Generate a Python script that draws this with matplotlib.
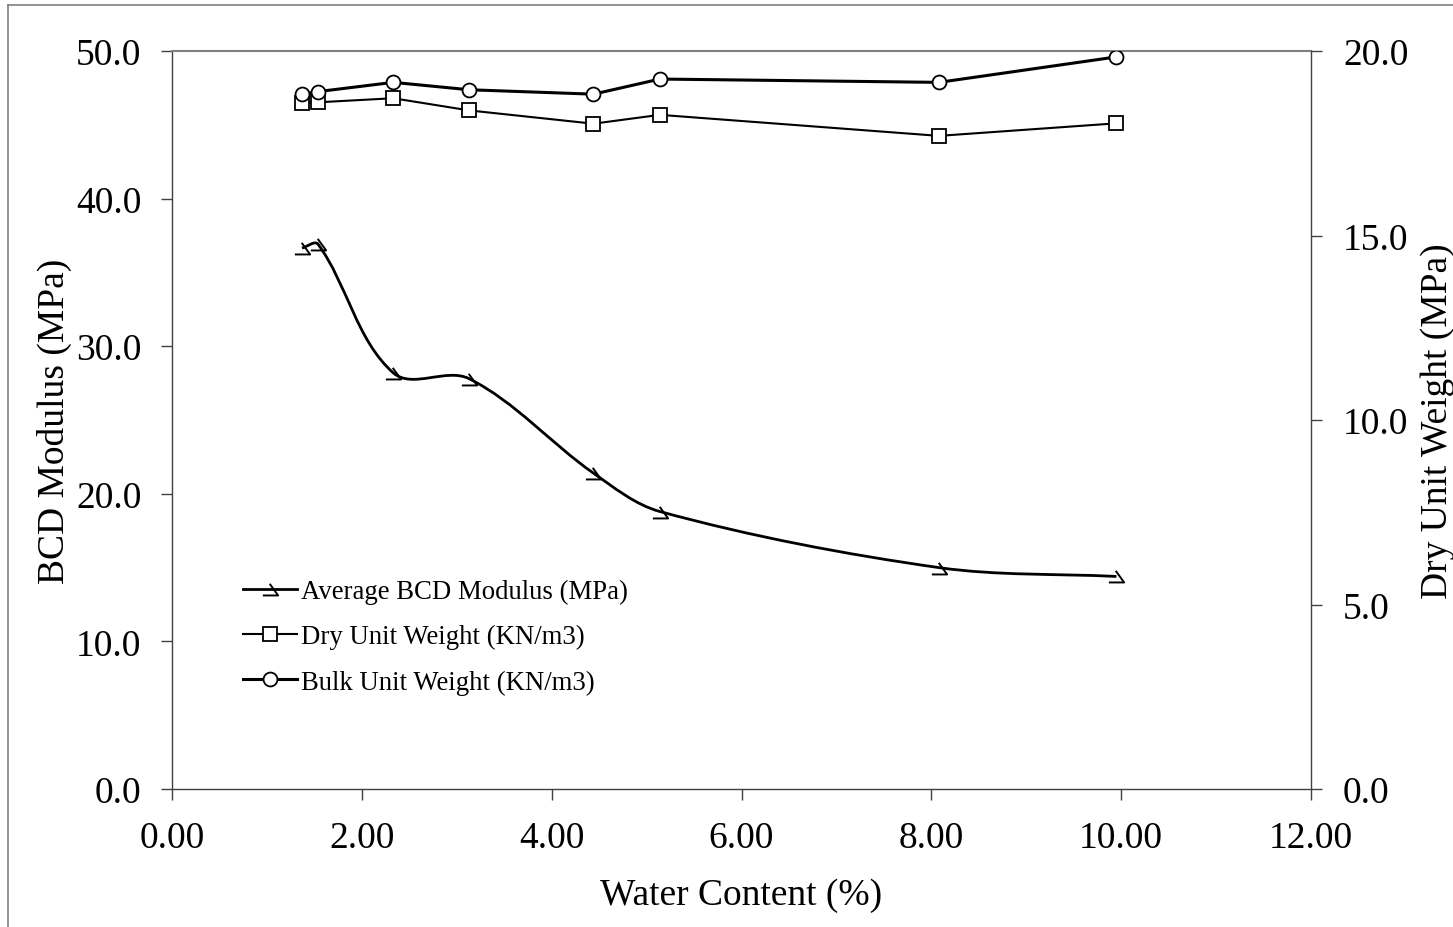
import numpy as np
import matplotlib
matplotlib.use("Agg")
import matplotlib.pyplot as plt
from matplotlib.path import Path
from matplotlib.patches import PathPatch
from matplotlib.lines import Line2D

plt.rcParams["font.family"] = ["Liberation Serif", "DejaVu Serif"]

# ---- data ----
water_content = [1.37, 1.54, 2.33, 3.13, 4.44, 5.14, 8.08, 9.95]
bcd_modulus = [36.65, 36.9, 28.2, 27.8, 21.4, 18.8, 15.0, 14.4]
dry_unit_weight = [18.59, 18.61, 18.72, 18.39, 18.03, 18.27, 17.70, 18.04]
bulk_unit_weight = [18.83, 18.90, 19.15, 18.95, 18.83, 19.24, 19.15, 19.84]

x_ticks = [0, 2, 4, 6, 8, 10, 12]
left_ticks = [0, 10, 20, 30, 40, 50]
right_ticks = [0, 5, 10, 15, 20]

W, H = 1453, 928
AX_L, AX_R, AX_T, AX_B = 172, 1311, 52, 790


def smooth_path(xs, ys, sx, sy):
    # Excel-like smoothed line: cubic Bezier segments, tangent from the
    # neighbours, control length scaled by the adjacent segment (pixel space)
    pts = np.column_stack([np.asarray(xs) * sx, np.asarray(ys) * sy])
    n = len(pts)
    seg = np.hypot(*np.diff(pts, axis=0).T)
    tang = []
    for i in range(n):
        a = pts[i - 1] if i > 0 else pts[i]
        b = pts[i + 1] if i < n - 1 else pts[i]
        d = np.hypot(*(b - a))
        tang.append((b - a) / d if d > 0 else np.zeros(2))
    verts = [pts[0]]
    codes = [Path.MOVETO]
    for i in range(n - 1):
        L = seg[i] / 3.0
        c1 = pts[i] + tang[i] * L
        c2 = pts[i + 1] - tang[i + 1] * L
        verts += [c1, c2, pts[i + 1]]
        codes += [Path.CURVE4] * 3
    verts = np.array(verts) / [sx, sy]
    return Path(verts, codes)


# half-arrow marker used for the modulus series
harpoon = Path([(-1.0, -0.78), (1.0, -0.78), (-0.1, 0.74)],
               [Path.MOVETO, Path.LINETO, Path.LINETO])

fig = plt.figure(figsize=(W / 100, H / 100), dpi=100, facecolor="white")
ax1 = fig.add_axes([AX_L / W, 1 - AX_B / H, (AX_R - AX_L) / W, (AX_B - AX_T) / H])
ax2 = ax1.twinx()

ax1.set_xlim(0, 12)
ax1.set_ylim(0, 50)
ax2.set_ylim(0, 20)

# modulus: smoothed curve + markers
sx = (AX_R - AX_L) / 12.0
sy = (AX_B - AX_T) / 50.0
ax1.add_patch(PathPatch(smooth_path(water_content, bcd_modulus, sx, sy), fill=False,
                        lw=2.0, edgecolor="black", zorder=3))
ax1.plot(water_content, bcd_modulus, ls="none", marker=harpoon, ms=11,
         mec="black", mfc="none", mew=1.4, zorder=4)

# unit weights on the right axis
ax2.plot(water_content, dry_unit_weight, color="black", lw=1.5, marker="s",
         ms=9.5, mfc="white", mec="black", mew=1.3, zorder=3)
ax2.plot(water_content, bulk_unit_weight, color="black", lw=2.2, marker="o",
         ms=10, mfc="white", mec="black", mew=1.3, zorder=3)

ax1.set_xticks(x_ticks)
ax1.set_xticklabels([f"{v:.2f}" for v in x_ticks])
ax1.set_yticks(left_ticks)
ax1.set_yticklabels([f"{v:.1f}" for v in left_ticks])
ax2.set_yticks(right_ticks)
ax2.set_yticklabels([f"{v:.1f}" for v in right_ticks])

spine_col = "#404040"
for ax in (ax1, ax2):
    for s in ax.spines.values():
        s.set_visible(False)
ax1.spines["left"].set_visible(True)
ax1.spines["bottom"].set_visible(True)
ax1.spines["top"].set_visible(True)
ax2.spines["right"].set_visible(True)
for s in (ax1.spines["left"], ax1.spines["bottom"], ax2.spines["right"]):
    s.set_color(spine_col)
    s.set_linewidth(1.0)
ax1.spines["top"].set_color("#808080")
ax1.spines["top"].set_linewidth(1.5)

ax1.tick_params(axis="both", direction="out", length=8, width=1.0,
                color=spine_col, labelsize=27)
ax1.tick_params(axis="y", pad=14)
ax1.tick_params(axis="x", pad=15)
ax2.tick_params(axis="y", direction="out", length=8, width=1.0,
                color=spine_col, labelsize=27, pad=15)

ax1.set_xlabel("Water Content (%)", fontsize=27, labelpad=16)
ax1.set_ylabel("BCD Modulus (MPa)", fontsize=27)
ax2.set_ylabel("Dry Unit Weight (MPa)", fontsize=27)
ax1.yaxis.set_label_coords((72 - AX_L) / (AX_R - AX_L), 0.5)
ax2.yaxis.set_label_coords((1420 - AX_L) / (AX_R - AX_L), 0.5)

handles = [
    Line2D([], [], color="black", lw=2.0, marker=harpoon, ms=11, mfc="none", mew=1.4),
    Line2D([], [], color="black", lw=1.5, marker="s", ms=9.5, mfc="white", mew=1.3),
    Line2D([], [], color="black", lw=2.2, marker="o", ms=10, mfc="white", mew=1.3),
]
labels = ["Average BCD Modulus (MPa)", "Dry Unit Weight (KN/m3)", "Bulk Unit Weight (KN/m3)"]
leg = ax1.legend(handles, labels, loc="upper left",
                 bbox_to_anchor=(243 / W, 1 - 580 / H), bbox_transform=fig.transFigure,
                 frameon=False, fontsize=19.3, handlelength=2.0, handletextpad=0.15,
                 labelspacing=0.75, borderaxespad=0, borderpad=0)

# outer chart border
fig.add_artist(Line2D([8 / W, 8 / W], [0, 1 - 6 / H], color="#808080", lw=1.2,
                      transform=fig.transFigure))
fig.add_artist(Line2D([8 / W, 1], [1 - 6 / H, 1 - 6 / H], color="#808080", lw=1.2,
                      transform=fig.transFigure))

fig.savefig("out.png", dpi=100, facecolor="white")
